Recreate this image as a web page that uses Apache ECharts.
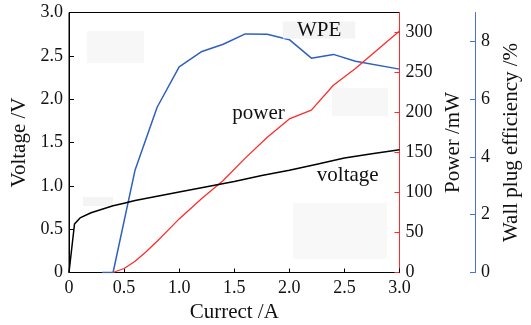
<!DOCTYPE html>
<html>
<head>
<meta charset="utf-8">
<script src="https://cdn.jsdelivr.net/npm/echarts@6/dist/echarts.min.js"></script>
<style>
  html, body { margin: 0; padding: 0; background: #fff; }
  #chart { width: 531px; height: 325px; }
</style>
</head>
<body>
<div id="chart"></div>
<script>
// Voltage (V) vs drive current (A)
const voltageCurrent = [0, 0.05, 0.1, 0.2, 0.3, 0.4, 0.5, 0.6, 0.8, 1.0, 1.25, 1.5, 1.75, 2.0, 2.25, 2.5, 2.75, 3.0];
const voltageValues  = [0, 0.56, 0.63, 0.69, 0.73, 0.77, 0.80, 0.83, 0.88, 0.93, 0.99, 1.05, 1.12, 1.18, 1.25, 1.32, 1.37, 1.415];

// Output power (mW) vs drive current (A)
const powerCurrent = [0.4, 0.5, 0.6, 0.7, 0.8, 0.9, 1.0, 1.2, 1.4, 1.6, 1.8, 2.0, 2.2, 2.4, 2.6, 3.0];
const powerValues  = [0, 5, 14, 26, 39, 53, 67, 92, 115, 143, 169, 192, 203, 234, 255, 302];

// Wall plug efficiency (%) vs drive current (A)
const wpeCurrent = [0.3, 0.4, 0.6, 0.8, 1.0, 1.2, 1.4, 1.6, 1.8, 2.0, 2.2, 2.4, 2.6, 3.0];
const wpeValues  = [0, 0, 3.55, 5.72, 7.12, 7.64, 7.90, 8.26, 8.25, 8.06, 7.42, 7.55, 7.31, 7.04];

// Tick values
const currentTicks = [0, 0.5, 1.0, 1.5, 2.0, 2.5, 3.0];
const voltageTicks = [0, 0.5, 1.0, 1.5, 2.0, 2.5, 3.0];
const powerTicks   = [0, 50, 100, 150, 200, 250, 300];
const wpeTicks     = [0, 2, 4, 6, 8];

// In-plot curve labels: [text, current, value]
const powerTag   = ['power', 1.72, 199];
const voltageTag = ['voltage', 2.53, 1.125];
const wpeTag     = ['WPE', 2.27, 8.39];

const pairs = (xs, ys) => xs.map((x, i) => [x, ys[i]]);

const FONT = 'Liberation Serif';
const tickFont = { fontFamily: FONT, fontSize: 18, color: '#111' };
const nameFont = { fontFamily: FONT, fontSize: 21, color: '#111' };
const fmt1 = v => (v === 0 ? '0' : v.toFixed(1));

const RED = '#ff2b2b';
const BLUE = '#2f5fc0';
const AXIS_BLUE = '#4a74c9';

function tag(t, extra) {
  return {
    symbol: 'rect', symbolSize: 0,
    data: [{ name: t[0], coord: [t[1], t[2]] }],
    label: Object.assign({
      show: true, position: 'inside', formatter: '{b}',
      fontFamily: FONT, fontSize: 21, color: '#111'
    }, extra || {}),
    silent: true, animation: false
  };
}

const chart = echarts.init(document.getElementById('chart'), null, { renderer: 'canvas' });

chart.setOption({
  animation: false,
  backgroundColor: '#fff',
  grid: {
    left: 69, right: 131.5, top: 12.5, bottom: 52.5,
    show: true, borderColor: '#000', borderWidth: 1,
    containLabel: false, outerBoundsMode: 'none'
  },
  graphic: [
    { type: 'rect', z: 0, shape: { x: 87, y: 31, width: 57, height: 32 }, style: { fill: '#f7f7f7' }, silent: true },
    { type: 'rect', z: 0, shape: { x: 332, y: 88, width: 56, height: 28 }, style: { fill: '#f7f7f7' }, silent: true },
    { type: 'rect', z: 0, shape: { x: 293, y: 203, width: 94, height: 56 }, style: { fill: '#f8f8f8' }, silent: true },
    { type: 'rect', z: 0, shape: { x: 83, y: 197, width: 30, height: 9 }, style: { fill: '#f4f4f4' }, silent: true }
  ],
  xAxis: {
    type: 'value', min: 0, max: 3, interval: 0.5,
    name: 'Currect /A', nameLocation: 'middle', nameGap: 29, nameTextStyle: nameFont,
    axisLine: { show: true, onZero: false, lineStyle: { color: '#000', width: 1 } },
    axisTick: { show: true, inside: true, length: 4, lineStyle: { color: '#000' }, customValues: currentTicks },
    axisLabel: Object.assign({ margin: 7, formatter: fmt1, customValues: currentTicks }, tickFont),
    splitLine: { show: false }
  },
  yAxis: [
    {
      type: 'value', min: 0, max: 3, interval: 0.5, position: 'left',
      name: 'Voltage /V', nameLocation: 'middle', nameGap: 38, nameTextStyle: nameFont,
      axisLine: { show: true, onZero: false, lineStyle: { color: '#000', width: 1 } },
      axisTick: { show: true, inside: true, length: 5, lineStyle: { color: '#000' }, customValues: voltageTicks },
      axisLabel: Object.assign({ margin: 6, formatter: fmt1, customValues: voltageTicks }, tickFont),
      splitLine: { show: false }
    },
    {
      type: 'value', min: 0, max: 325, interval: 50, position: 'right',
      name: 'Power /mW', nameLocation: 'middle', nameGap: 42, nameTextStyle: nameFont,
      axisLine: { show: true, onZero: false, lineStyle: { color: RED, width: 1 } },
      axisTick: { show: true, inside: true, length: 5, lineStyle: { color: RED }, customValues: powerTicks },
      axisLabel: Object.assign({ margin: 6, customValues: powerTicks }, tickFont),
      splitLine: { show: false }
    },
    {
      type: 'value', min: 0, max: 9, interval: 1, position: 'right', offset: 75.5,
      name: 'Wall plug efficiency /%', nameLocation: 'middle', nameGap: 22, nameTextStyle: nameFont,
      axisLine: { show: true, onZero: false, lineStyle: { color: AXIS_BLUE, width: 1 } },
      axisTick: { show: true, inside: true, length: 5, lineStyle: { color: AXIS_BLUE }, customValues: wpeTicks },
      axisLabel: Object.assign({ margin: 6, customValues: wpeTicks }, tickFont),
      splitLine: { show: false }
    }
  ],
  series: [
    {
      name: 'WPE', type: 'line', yAxisIndex: 2, z: 3,
      data: pairs(wpeCurrent, wpeValues),
      showSymbol: false, symbol: 'none',
      lineStyle: { color: BLUE, width: 1.5 },
      markPoint: tag(wpeTag, { backgroundColor: '#f4f4f4', padding: [0, 14], lineHeight: 17 })
    },
    {
      name: 'power', type: 'line', yAxisIndex: 1, z: 3,
      data: pairs(powerCurrent, powerValues),
      showSymbol: false, symbol: 'none',
      lineStyle: { color: RED, width: 1.3 },
      markPoint: tag(powerTag)
    },
    {
      name: 'voltage', type: 'line', yAxisIndex: 0, z: 3,
      data: pairs(voltageCurrent, voltageValues),
      showSymbol: false, symbol: 'none',
      lineStyle: { color: '#000', width: 1.5 },
      markPoint: tag(voltageTag)
    }
  ]
});
</script>
</body>
</html>
